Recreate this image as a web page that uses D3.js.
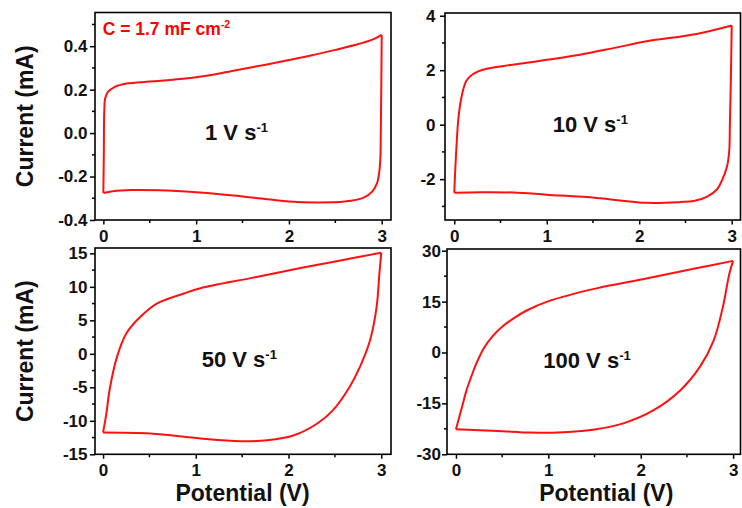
<!DOCTYPE html>
<html>
<head>
<meta charset="utf-8">
<script src="https://cdn.jsdelivr.net/npm/d3@7"></script>
<style>
html,body{margin:0;padding:0;background:#fff;}
svg{display:block;font-family:"Liberation Sans",Arial,sans-serif;font-weight:bold;}
</style>
</head>
<body>
<svg id="chart" width="742" height="508"></svg>
<script>
// ---------- data (potential in V, current in mA), loop order: forward sweep then reverse ----------
const scanRates = ["1", "10", "50", "100"];

const pot1 = [0, 0.005, 0.01, 0.02, 0.05, 0.12, 0.25, 0.5, 0.75, 1.0, 1.25, 1.5, 1.75, 2.0, 2.25, 2.5, 2.75, 2.9, 3.0,
              2.995, 2.99, 2.985, 2.97, 2.95, 2.9, 2.8, 2.6, 2.3, 2.0, 1.7, 1.4, 1.0, 0.6, 0.3, 0.1, 0];
const cur1 = [-0.276, -0.1, 0.1, 0.16, 0.19, 0.212, 0.228, 0.237, 0.246, 0.257, 0.274, 0.295, 0.315, 0.336, 0.358, 0.383, 0.41, 0.43, 0.452,
              0.2, 0.0, -0.12, -0.19, -0.23, -0.268, -0.298, -0.315, -0.319, -0.315, -0.301, -0.287, -0.272, -0.263, -0.262, -0.268, -0.276];

const pot2 = [0, 0.022, 0.047, 0.083, 0.13, 0.2, 0.35, 0.63, 1.0, 1.36, 1.72, 2.08, 2.62, 3.0,
              2.99, 2.98, 2.974, 2.95, 2.89, 2.84, 2.73, 2.59, 2.45, 2.08, 1.54, 1.0, 0.64, 0.28, 0];
const cur2 = [-2.5, -0.92, 0.3, 1.09, 1.6, 1.85, 2.05, 2.2, 2.38, 2.57, 2.81, 3.06, 3.33, 3.64,
              1.5, 0.0, -0.92, -1.53, -2.08, -2.38, -2.65, -2.8, -2.84, -2.87, -2.69, -2.57, -2.49, -2.48, -2.5];

const pot3 = [0, 0.036, 0.07, 0.15, 0.25, 0.40, 0.58, 0.87, 1.05, 1.59, 2.13, 2.49, 3.0,
              2.98, 2.95, 2.88, 2.77, 2.66, 2.48, 2.31, 2.06, 1.77, 1.48, 1.05, 0.51, 0];
const cur3 = [-11.75, -8.9, -5.4, -0.45, 3.05, 5.5, 7.5, 9.0, 9.8, 11.3, 12.8, 13.75, 15.1,
              12.0, 7.0, 2.05, -1.95, -4.9, -8.4, -10.4, -12.15, -12.9, -13.05, -12.65, -11.9, -11.75];

const pot4 = [0, 0.06, 0.115, 0.17, 0.22, 0.3, 0.4, 0.5, 0.62, 0.76, 1.01, 1.52, 2.06, 2.6, 3.0,
              2.96, 2.89, 2.79, 2.64, 2.43, 2.14, 1.82, 1.5, 1.1, 0.81, 0.45, 0];
const cur4 = [-22.6, -16.6, -11.1, -6.8, -3.3, 1.2, 4.9, 7.6, 10.0, 12.3, 15.2, 18.9, 21.8, 24.8, 27.0,
              23.3, 13.5, 3.6, -4.25, -11.1, -17.0, -20.8, -22.7, -23.6, -23.6, -23.1, -22.6];

const xTicks = [0, 1, 2, 3];
const xTickLabels = ["0", "1", "2", "3"];
const xMinor = [0.5, 1.5, 2.5];

const yTicks1 = [-0.4, -0.2, 0.0, 0.2, 0.4];
const yTickLabels1 = ["-0.4", "-0.2", "0.0", "0.2", "0.4"];
const yMinor1 = [-0.3, -0.1, 0.1, 0.3, 0.5];

const yTicks2 = [-2, 0, 2, 4];
const yTickLabels2 = ["-2", "0", "2", "4"];
const yMinor2 = [-3, -1, 1, 3];

const yTicks3 = [-15, -10, -5, 0, 5, 10, 15];
const yTickLabels3 = ["-15", "-10", "-5", "0", "5", "10", "15"];
const yMinor3 = [-12.5, -7.5, -2.5, 2.5, 7.5, 12.5];

const yTicks4 = [-30, -15, 0, 15, 30];
const yTickLabels4 = ["-30", "-15", "0", "15", "30"];
const yMinor4 = [-22.5, -7.5, 7.5, 22.5];

const capacitanceLabel = "C = 1.7 mF cm";
const capacitanceSup = "-2";
const yTitle = "Current (mA)";
const xTitle = "Potential (V)";

// ---------- layout ----------
const panels = [
  {pot: pot1, cur: cur1, rate: scanRates[0], yt: yTicks1, ytl: yTickLabels1, ym: yMinor1,
   l: 95, r: 391, t: 12.5, b: 220, xd: [-0.09, 3.1], yd: [-0.4, 0.555], yPad: 2.5, ann: [110, 127]},
  {pot: pot2, cur: cur2, rate: scanRates[1], yt: yTicks2, ytl: yTickLabels2, ym: yMinor2,
   l: 445, r: 740.5, t: 13, b: 220, xd: [-0.1, 3.095], yd: [-3.5, 4.1], yPad: 4.5, ann: [107.7, 119.3]},
  {pot: pot3, cur: cur3, rate: scanRates[2], yt: yTicks3, ytl: yTickLabels3, ym: yMinor3,
   l: 95, r: 391, t: 248, b: 454.3, xd: [-0.087, 3.105], yd: [-15, 15.8], yPad: 2.5, ann: [106.7, 118.7]},
  {pot: pot4, cur: cur4, rate: scanRates[3], yt: yTicks4, ytl: yTickLabels4, ym: yMinor4,
   l: 447, r: 740.5, t: 249, b: 454.3, xd: [-0.097, 3.08], yd: [-30, 30.5], yPad: 1, ann: [96.3, 118.7]}
];

const svg = d3.select("#chart");
const RED = "#ff1010";

panels.forEach((p, k) => {
  const w = p.r - p.l, h = p.b - p.t;
  const g = svg.append("g").attr("transform", `translate(${p.l},${p.t})`);
  const x = d3.scaleLinear().domain(p.xd).range([0, w]);
  const y = d3.scaleLinear().domain(p.yd).range([h, 0]);

  // curve: split at vertex (max potential) to keep sharp corner
  const pts = p.pot.map((v, i) => [v, p.cur[i]]);
  const iv = d3.maxIndex(p.pot);
  const line = d3.line().x(d => x(d[0])).y(d => y(d[1])).curve(d3.curveCatmullRom.alpha(0.5));
  g.append("path").attr("d", line(pts.slice(0, iv + 1)))
    .attr("fill", "none").attr("stroke", RED).attr("stroke-width", 2).attr("stroke-linejoin", "round");
  g.append("path").attr("d", line(pts.slice(iv)))
    .attr("fill", "none").attr("stroke", RED).attr("stroke-width", 2).attr("stroke-linejoin", "round");

  // y axis
  const ya = g.append("g").call(d3.axisLeft(y).tickValues(p.yt)
      .tickFormat((d, i) => p.ytl[i]).tickSizeInner(5).tickSizeOuter(0).tickPadding(p.yPad));
  ya.select(".domain").remove();
  ya.selectAll("line").attr("stroke", "#000").attr("stroke-width", 1.5);
  ya.selectAll("text").attr("font-size", 17).attr("font-weight", "bold").attr("fill", "#111")
    .attr("font-family", '"Liberation Sans",Arial,sans-serif');
  g.selectAll(".ymin").data(p.ym.filter(v => v >= p.yd[0] && v <= p.yd[1])).enter().append("line")
    .attr("x1", -3).attr("x2", 0).attr("y1", d => y(d)).attr("y2", d => y(d))
    .attr("stroke", "#000").attr("stroke-width", 1.5);

  // x axis
  const xa = g.append("g").attr("transform", `translate(0,${h})`)
    .call(d3.axisBottom(x).tickValues(xTicks).tickFormat((d, i) => xTickLabels[i])
      .tickSizeInner(4.5).tickSizeOuter(0).tickPadding(5.5));
  xa.select(".domain").remove();
  xa.selectAll("line").attr("stroke", "#000").attr("stroke-width", 1.5);
  xa.selectAll("text").attr("font-size", 17).attr("font-weight", "bold").attr("fill", "#111")
    .attr("font-family", '"Liberation Sans",Arial,sans-serif');
  g.selectAll(".xmin").data(xMinor).enter().append("line")
    .attr("y1", h).attr("y2", h + 3).attr("x1", d => x(d)).attr("x2", d => x(d))
    .attr("stroke", "#000").attr("stroke-width", 1.5);

  // frame
  g.append("rect").attr("x", 0).attr("y", 0).attr("width", w).attr("height", h)
    .attr("fill", "none").attr("stroke", "#000").attr("stroke-width", 1.6);

  // scan rate annotation
  const t = g.append("text").attr("x", p.ann[0]).attr("y", p.ann[1])
    .attr("font-size", 22).attr("fill", "#111");
  t.append("tspan").text(p.rate + " V s");
  t.append("tspan").attr("font-size", 13).attr("dy", -8).text("-1");
});

// capacitance label
const cl = svg.append("text").attr("x", 102.7).attr("y", 35).attr("fill", "#ff0000").attr("font-size", 17.5);
cl.append("tspan").text(capacitanceLabel);
cl.append("tspan").attr("font-size", 10.5).attr("dy", -7).text(capacitanceSup);

// axis titles
[116.3, 351.2].forEach(cy => {
  svg.append("text").attr("transform", `translate(33,${cy}) rotate(-90)`)
    .attr("text-anchor", "middle").attr("font-size", 23).attr("fill", "#111").text(yTitle);
});
[242.5, 606.3].forEach(cx => {
  svg.append("text").attr("x", cx).attr("y", 501).attr("text-anchor", "middle")
    .attr("font-size", 23).attr("fill", "#111").text(xTitle);
});
</script>
</body>
</html>
